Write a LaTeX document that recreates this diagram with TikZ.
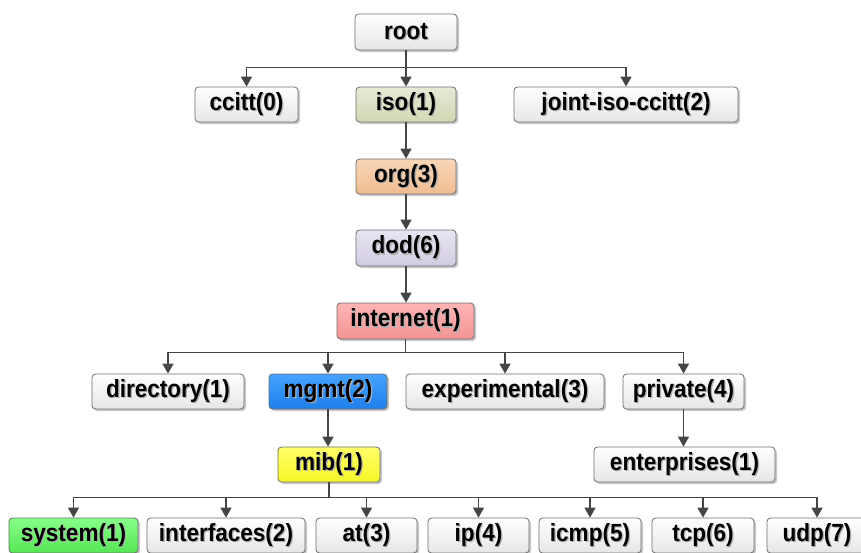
\documentclass[tikz,border=0pt]{standalone}
\usepackage{fontspec}
\usepackage{graphicx}
\setmainfont{Liberation Sans}
\usetikzlibrary{arrows.meta,shadows,positioning}

% node fills
\definecolor{wtop}{HTML}{FFFFFF}
\definecolor{wbot}{HTML}{E6E6E6}
\definecolor{isotop}{HTML}{E6EBD6}
\definecolor{isobot}{HTML}{D0D8B2}
\definecolor{orgtop}{HTML}{F9D6B6}
\definecolor{orgbot}{HTML}{F0BC92}
\definecolor{dodtop}{HTML}{E8E4F0}
\definecolor{dodbot}{HTML}{D2CCE2}
\definecolor{inettop}{HTML}{FFB4B4}
\definecolor{inetbot}{HTML}{F49494}
\definecolor{mgmttop}{HTML}{45A2FF}
\definecolor{mgmtbot}{HTML}{1E7FEA}
\definecolor{mibtop}{HTML}{FFFF6A}
\definecolor{mibbot}{HTML}{F6F628}
\definecolor{systop}{HTML}{88FF88}
\definecolor{sysbot}{HTML}{55E655}
\definecolor{edge}{HTML}{6E6E6E}
\definecolor{wire}{HTML}{454545}

% bold label, slightly tall, with a soft offset shadow behind it
\newcommand{\shd}[1]{\scalebox{0.98}[1.08]{\makebox[0pt][l]{\hspace{1.3pt}\raisebox{-1.3pt}{\color{black!30}#1}}#1}}

\tikzset{
  oid/.style={rectangle, rounded corners=3.5pt, draw=edge, line width=0.8pt,
    minimum height=35pt, inner sep=0pt, font=\fontsize{23}{26}\selectfont\bfseries,
    top color=wtop, bottom color=wbot,
    drop shadow={shadow xshift=2pt, shadow yshift=-2pt, fill=black, opacity=0.22}},
  tint/.style n args={2}{top color=#1, bottom color=#2},
  link/.style={draw=wire, line width=1.5pt,
    -{Triangle[width=11pt,length=10pt,fill=wire]}}
}

\begin{document}
\begin{tikzpicture}[x=1pt,y=-1pt]
\useasboundingbox (0,0) rectangle (861,552);

% top levels
\node[oid, minimum width=102pt, minimum height=36pt] (root) at (406,32) {\shd{root}};
\node[oid, minimum width=103pt] (ccitt) at (246.5,104.5) {\shd{ccitt(0)}};
\node[oid, minimum width=100pt, tint={isotop}{isobot}] (iso) at (406,104.5) {\shd{iso(1)}};
\node[oid, minimum width=224pt] (joint) at (626,104.5) {\shd{joint-iso-ccitt(2)}};
\node[oid, minimum width=100pt, tint={orgtop}{orgbot}] (org) at (406,176.5) {\shd{org(3)}};
\node[oid, minimum width=100pt, minimum height=36pt, tint={dodtop}{dodbot}] (dod) at (406,248) {\shd{dod(6)}};
\node[oid, minimum width=137pt, minimum height=36pt, tint={inettop}{inetbot}] (internet) at (405.5,321) {\shd{internet(1)}};

% internet subtree
\node[oid, minimum width=152pt] (directory) at (168,391.5) {\shd{directory(1)}};
\node[oid, minimum width=118pt, tint={mgmttop}{mgmtbot}] (mgmt) at (328,391.5) {\shd{mgmt(2)}};
\node[oid, minimum width=198pt] (experimental) at (505,391.5) {\shd{experimental(3)}};
\node[oid, minimum width=121pt] (private) at (683.5,391.5) {\shd{private(4)}};
\node[oid, minimum width=102pt, tint={mibtop}{mibbot}] (mib) at (329,464.5) {\shd{mib(1)}};
\node[oid, minimum width=181pt] (enterprises) at (684.5,464.5) {\shd{enterprises(1)}};

% mib groups
\node[oid, minimum width=129pt, tint={systop}{sysbot}] (system) at (73.5,535.5) {\shd{system(1)}};
\node[oid, minimum width=158pt] (interfaces) at (226,535.5) {\shd{interfaces(2)}};
\node[oid, minimum width=101pt] (at) at (366.5,535.5) {\shd{at(3)}};
\node[oid, minimum width=101pt] (ip) at (478.5,535.5) {\shd{ip(4)}};
\node[oid, minimum width=102pt] (icmp) at (590,535.5) {\shd{icmp(5)}};
\node[oid, minimum width=102pt] (tcp) at (703,535.5) {\shd{tcp(6)}};
\node[oid, minimum width=100pt] (udp) at (817,535.5) {\shd{udp(7)}};

% root fan-out
\foreach \c in {ccitt,iso,joint}
  \draw[link] (root.south) -- ++(0,17) -| (\c.north);

% single chain
\draw[link] (iso.south) -- (iso.south |- org.north);
\draw[link] (org.south) -- (org.south |- dod.north);
\draw[link] (dod.south) -- (dod.south |- internet.north);

% internet fan-out
\foreach \c in {directory,mgmt,experimental,private}
  \draw[link] (internet.south) -- ++(0,13) -| (\c.north);

\draw[link] (mgmt.south) -- (mgmt.south |- mib.north);
\draw[link] (private.south) -- (private.south |- enterprises.north);

% mib fan-out
\foreach \c in {system,interfaces,at,ip,icmp,tcp,udp}
  \draw[link] (mib.south) -- ++(0,15) -| (\c.north);

\end{tikzpicture}
\end{document}
